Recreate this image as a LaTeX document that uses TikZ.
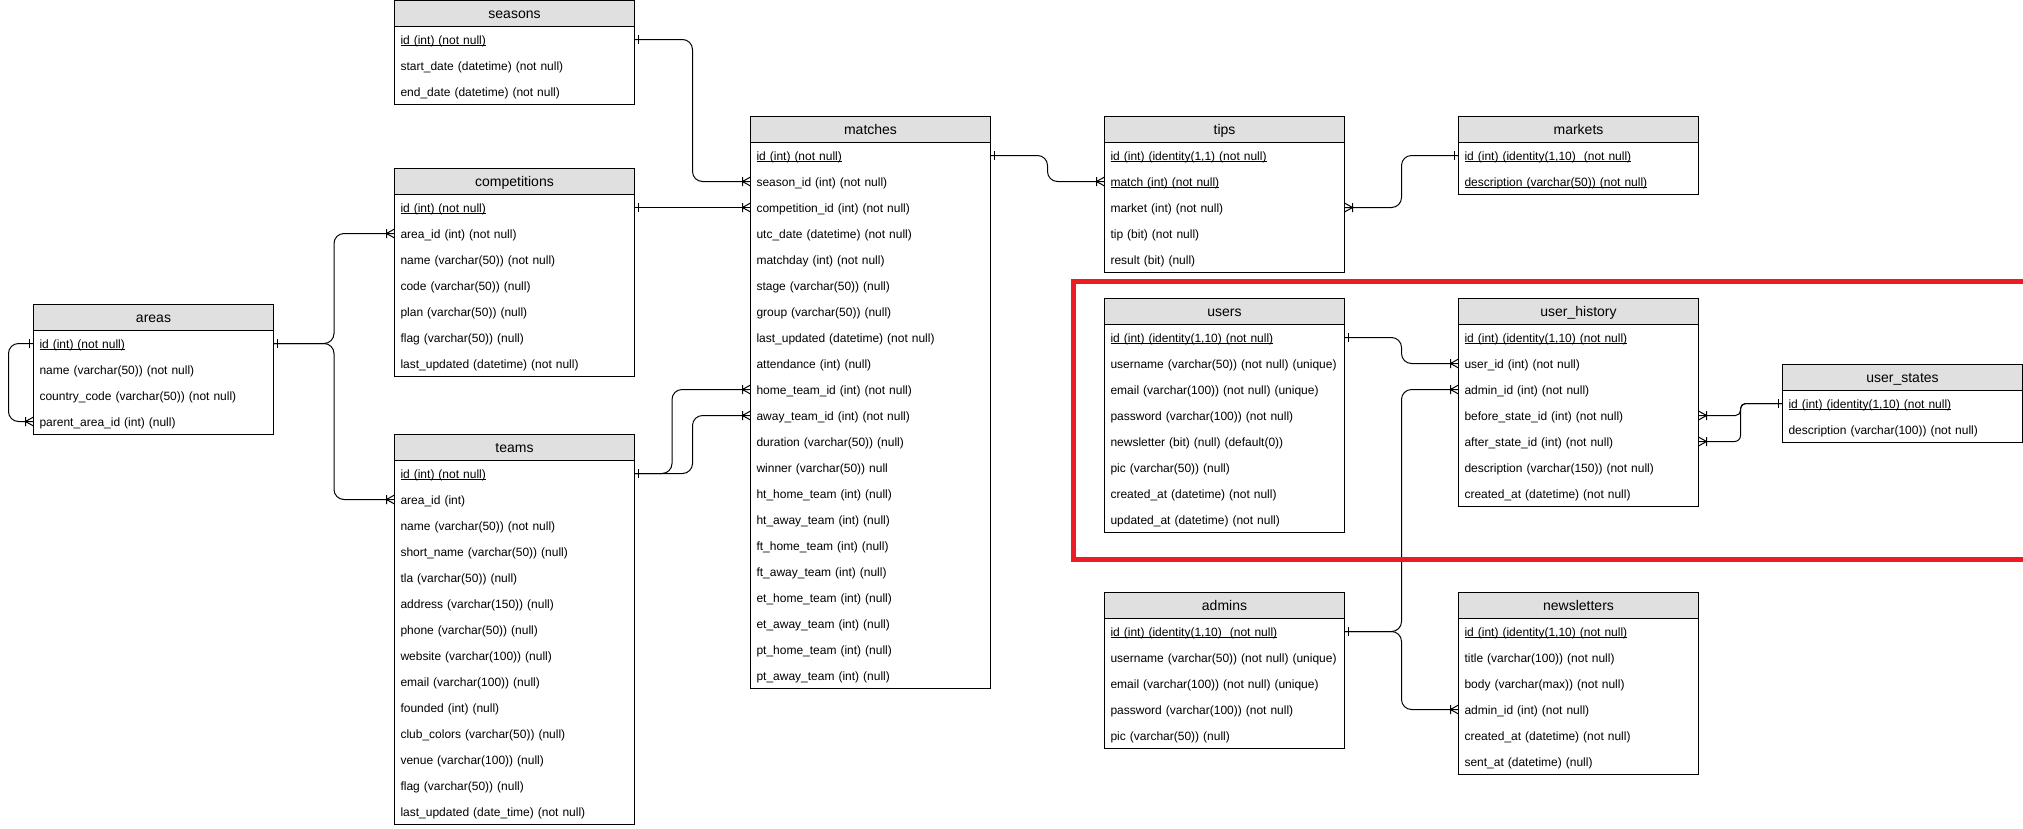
\documentclass[tikz,border=0pt]{standalone}
\usepackage{fontspec}
\setmainfont{Liberation Sans}
\usetikzlibrary{arrows.meta}
\definecolor{hdrgray}{RGB}{224,224,224}
\definecolor{markred}{RGB}{237,28,36}
\newcommand\pkul[1]{\setbox0=\hbox{#1}\rlap{\rule[-1.8pt]{\wd0}{0.8pt}}\box0}

\pgfdeclarearrow{
  name = ERone,
  setup code = {
    \pgfarrowssettipend{0pt}
    \pgfarrowssetlineend{0pt}
    \pgfarrowssetbackend{-5pt}
    \pgfarrowssetvisualbackend{-5pt}
    \pgfarrowshullpoint{0pt}{4.5pt}
    \pgfarrowshullpoint{-5pt}{4.5pt}
    \pgfarrowshullpoint{-5pt}{-4.5pt}
    \pgfarrowshullpoint{0pt}{-4.5pt}
  },
  drawing code = {
    \pgfsetdash{}{0pt}
    \pgfpathmoveto{\pgfqpoint{-4pt}{-4.5pt}}
    \pgfpathlineto{\pgfqpoint{-4pt}{4.5pt}}
    \pgfusepathqstroke
  }
}
\pgfdeclarearrow{
  name = ERmany,
  setup code = {
    \pgfarrowssettipend{0pt}
    \pgfarrowssetlineend{0pt}
    \pgfarrowssetbackend{-9pt}
    \pgfarrowssetvisualbackend{-9pt}
    \pgfarrowshullpoint{0pt}{5pt}
    \pgfarrowshullpoint{-9pt}{5pt}
    \pgfarrowshullpoint{-9pt}{-5pt}
    \pgfarrowshullpoint{0pt}{-5pt}
  },
  drawing code = {
    \pgfsetdash{}{0pt}
    \pgfsetroundjoin
    \pgfpathmoveto{\pgfqpoint{0pt}{4.5pt}}
    \pgfpathlineto{\pgfqpoint{-8pt}{0pt}}
    \pgfpathlineto{\pgfqpoint{0pt}{-4.5pt}}
    \pgfpathmoveto{\pgfqpoint{-8pt}{4.5pt}}
    \pgfpathlineto{\pgfqpoint{-8pt}{-4.5pt}}
    \pgfusepathqstroke
  }
}

\tikzset{
  hdr/.style={draw, fill=hdrgray, line width=1pt, outer sep=0pt, inner sep=0pt,
    minimum width=240pt, minimum height=26pt,
    font=\fontsize{14}{16}\selectfont, text height=11.5pt, text depth=1.5pt},
  rowst/.style={outer sep=0pt, inner xsep=6pt, inner ysep=0pt,
    minimum width=240pt, minimum height=26pt, text width=228pt, align=left,
    font=\fontsize{12}{14}\selectfont, text height=10.5pt, text depth=1.5pt},
  tblbox/.style={draw, line width=1pt},
  conn/.style={draw, line width=1pt, rounded corners=10pt},
  o2m/.style={conn, arrows={ERone-ERmany}},
  m2o/.style={conn, arrows={ERmany-ERone}},
  redframe/.style={draw=markred, line width=5pt}
}
\newcommand\ertab[4]{\node[hdr, anchor=north west] (#1) at (#2,#3) {#4};}
\newcommand\errow[3]{\node[rowst, anchor=north west] (#1-#2) at ([yshift=-#2*26pt]#1.south west) {#3};}
\newcommand\erbox[2]{\draw[tblbox] (#1.north west) rectangle (#1-#2.south east);}

\begin{document}
\begin{tikzpicture}[x=1pt, y=-1pt]
\useasboundingbox (0,0) rectangle (2023,828);
\fill[white] (0,0) rectangle (2023,828);

% seasons
\ertab{seasons}{394.5}{0.5}{seasons}
\errow{seasons}{0}{\pkul{id (int) (not null)}}
\errow{seasons}{1}{start\_date (datetime) (not null)}
\errow{seasons}{2}{end\_date (datetime) (not null)}
\erbox{seasons}{2}

% competitions
\ertab{comps}{394.5}{168.5}{competitions}
\errow{comps}{0}{\pkul{id (int) (not null)}}
\errow{comps}{1}{area\_id (int) (not null)}
\errow{comps}{2}{name (varchar(50)) (not null)}
\errow{comps}{3}{code (varchar(50)) (null)}
\errow{comps}{4}{plan (varchar(50)) (null)}
\errow{comps}{5}{flag (varchar(50)) (null)}
\errow{comps}{6}{last\_updated (datetime) (not null)}
\erbox{comps}{6}

% areas
\ertab{areas}{33.5}{304.5}{areas}
\errow{areas}{0}{\pkul{id (int) (not null)}}
\errow{areas}{1}{name (varchar(50)) (not null)}
\errow{areas}{2}{country\_code (varchar(50)) (not null)}
\errow{areas}{3}{parent\_area\_id (int) (null)}
\erbox{areas}{3}

% teams
\ertab{teams}{394.5}{434.5}{teams}
\errow{teams}{0}{\pkul{id (int) (not null)}}
\errow{teams}{1}{area\_id (int)}
\errow{teams}{2}{name (varchar(50)) (not null)}
\errow{teams}{3}{short\_name (varchar(50)) (null)}
\errow{teams}{4}{tla (varchar(50)) (null)}
\errow{teams}{5}{address (varchar(150)) (null)}
\errow{teams}{6}{phone (varchar(50)) (null)}
\errow{teams}{7}{website (varchar(100)) (null)}
\errow{teams}{8}{email (varchar(100)) (null)}
\errow{teams}{9}{founded (int) (null)}
\errow{teams}{10}{club\_colors (varchar(50)) (null)}
\errow{teams}{11}{venue (varchar(100)) (null)}
\errow{teams}{12}{flag (varchar(50)) (null)}
\errow{teams}{13}{last\_updated (date\_time) (not null)}
\erbox{teams}{13}

% matches
\ertab{matches}{750.5}{116.5}{matches}
\errow{matches}{0}{\pkul{id (int) (not null)}}
\errow{matches}{1}{season\_id (int) (not null)}
\errow{matches}{2}{competition\_id (int) (not null)}
\errow{matches}{3}{utc\_date (datetime) (not null)}
\errow{matches}{4}{matchday (int) (not null)}
\errow{matches}{5}{stage (varchar(50)) (null)}
\errow{matches}{6}{group (varchar(50)) (null)}
\errow{matches}{7}{last\_updated (datetime) (not null)}
\errow{matches}{8}{attendance (int) (null)}
\errow{matches}{9}{home\_team\_id (int) (not null)}
\errow{matches}{10}{away\_team\_id (int) (not null)}
\errow{matches}{11}{duration (varchar(50)) (null)}
\errow{matches}{12}{winner (varchar(50)) null}
\errow{matches}{13}{ht\_home\_team (int) (null)}
\errow{matches}{14}{ht\_away\_team (int) (null)}
\errow{matches}{15}{ft\_home\_team (int) (null)}
\errow{matches}{16}{ft\_away\_team (int) (null)}
\errow{matches}{17}{et\_home\_team (int) (null)}
\errow{matches}{18}{et\_away\_team (int) (null)}
\errow{matches}{19}{pt\_home\_team (int) (null)}
\errow{matches}{20}{pt\_away\_team (int) (null)}
\erbox{matches}{20}

% tips
\ertab{tips}{1104.5}{116.5}{tips}
\errow{tips}{0}{\pkul{id (int) (identity(1,1) (not null)}}
\errow{tips}{1}{\pkul{match (int) (not null)}}
\errow{tips}{2}{market (int) (not null)}
\errow{tips}{3}{tip (bit) (not null)}
\errow{tips}{4}{result (bit) (null)}
\erbox{tips}{4}

% markets
\ertab{markets}{1458.5}{116.5}{markets}
\errow{markets}{0}{\pkul{id (int) (identity(1,10)~ (not null)}}
\errow{markets}{1}{\pkul{description (varchar(50)) (not null)}}
\erbox{markets}{1}

% users
\ertab{users}{1104.5}{298.5}{users}
\errow{users}{0}{\pkul{id (int) (identity(1,10) (not null)}}
\errow{users}{1}{username (varchar(50)) (not null) (unique)}
\errow{users}{2}{email (varchar(100)) (not null) (unique)}
\errow{users}{3}{password (varchar(100)) (not null)}
\errow{users}{4}{newsletter (bit) (null) (default(0))}
\errow{users}{5}{pic (varchar(50)) (null)}
\errow{users}{6}{created\_at (datetime) (not null)}
\errow{users}{7}{updated\_at (datetime) (not null)}
\erbox{users}{7}

% user_history
\ertab{uhist}{1458.5}{298.5}{user\_history}
\errow{uhist}{0}{\pkul{id (int) (identity(1,10) (not null)}}
\errow{uhist}{1}{user\_id (int) (not null)}
\errow{uhist}{2}{admin\_id (int) (not null)}
\errow{uhist}{3}{before\_state\_id (int) (not null)}
\errow{uhist}{4}{after\_state\_id (int) (not null)}
\errow{uhist}{5}{description (varchar(150)) (not null)}
\errow{uhist}{6}{created\_at (datetime) (not null)}
\erbox{uhist}{6}

% user_states
\ertab{ustates}{1782.5}{364.5}{user\_states}
\errow{ustates}{0}{\pkul{id (int) (identity(1,10) (not null)}}
\errow{ustates}{1}{description (varchar(100)) (not null)}
\erbox{ustates}{1}

% admins
\ertab{admins}{1104.5}{592.5}{admins}
\errow{admins}{0}{\pkul{id (int) (identity(1,10)~ (not null)}}
\errow{admins}{1}{username (varchar(50)) (not null) (unique)}
\errow{admins}{2}{email (varchar(100)) (not null) (unique)}
\errow{admins}{3}{password (varchar(100)) (not null)}
\errow{admins}{4}{pic (varchar(50)) (null)}
\erbox{admins}{4}

% newsletters
\ertab{news}{1458.5}{592.5}{newsletters}
\errow{news}{0}{\pkul{id (int) (identity(1,10) (not null)}}
\errow{news}{1}{title (varchar(100)) (not null)}
\errow{news}{2}{body (varchar(max)) (not null)}
\errow{news}{3}{admin\_id (int) (not null)}
\errow{news}{4}{created\_at (datetime) (not null)}
\errow{news}{5}{sent\_at (datetime) (null)}
\erbox{news}{5}

% connectors
\path[o2m] (seasons-0.east) -- ++(58,0) |- (matches-1.west);
\path[o2m] (comps-0.east) -- (matches-2.west);
\path[o2m] (areas-0.east) -- ++(60.5,0) |- (comps-1.west);
\path[o2m] (areas-0.east) -- ++(60.5,0) |- (teams-1.west);
\path[o2m] (areas-0.west) -- ++(-25,0) |- (areas-3.west);
\path[o2m] (teams-0.east) -- ++(37.5,0) |- (matches-9.west);
\path[o2m] (teams-0.east) -- ++(58,0) |- (matches-10.west);
\path[o2m] (matches-0.east) -- ++(57,0) |- (tips-1.west);
\path[m2o] (tips-2.east) -- ++(57,0) |- (markets-0.west);
\path[o2m] (users-0.east) -- ++(57,0) |- (uhist-1.west);
\path[o2m] (admins-0.east) -- ++(57,0) |- (uhist-2.west);
\path[o2m] (admins-0.east) -- ++(57,0) |- (news-3.west);
\path[m2o, rounded corners=5pt] (uhist-3.east) -- ++(42,0) |- (ustates-0.west);
\path[m2o, rounded corners=6pt] (uhist-4.east) -- ++(42,0) |- (ustates-0.west);

% highlight frame
\path[redframe] (2023,281.5) -- (1073,281.5) -- (1073,559.5) -- (2023,559.5);
\end{tikzpicture}
\end{document}
